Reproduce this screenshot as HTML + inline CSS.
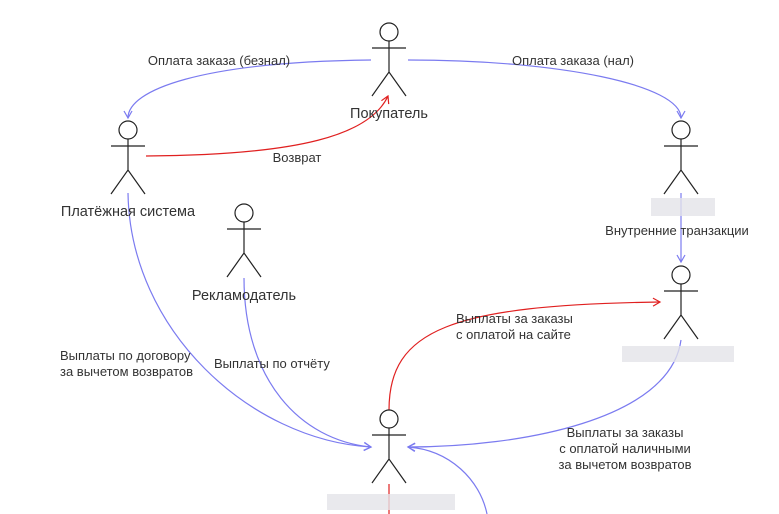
<!DOCTYPE html>
<html><head><meta charset="utf-8"><style>
html,body{margin:0;padding:0;background:#fff;}
svg{display:block;}
text{font-family:"Liberation Sans",sans-serif;font-size:13px;fill:#333;}
.a{stroke:#222;stroke-width:1.2;fill:none;}
.b{stroke:#7b7bf0;stroke-width:1.2;fill:none;}
.r{stroke:#e02020;stroke-width:1.2;fill:none;}
</style></head><body>
<svg width="779" height="514" viewBox="0 0 779 514" xmlns="http://www.w3.org/2000/svg">
<defs>
<marker id="mb" markerWidth="10" markerHeight="10" refX="8" refY="5" orient="auto" markerUnits="userSpaceOnUse"><path d="M1,1 L8,5 L1,9" fill="none" stroke="#7b7bf0" stroke-width="1.2"/></marker>
<marker id="mr" markerWidth="10" markerHeight="10" refX="8" refY="5" orient="auto" markerUnits="userSpaceOnUse"><path d="M1,1 L8,5 L1,9" fill="none" stroke="#e02020" stroke-width="1.2"/></marker>
<g id="act" class="a"><circle cx="0" cy="0" r="9"/><path d="M0,9 V40 M-17,16 H17 M-17,64 L0,40 L17,64"/></g>
</defs>
<path class="b" d="M371,60 C200,62 128,90 128,118" marker-end="url(#mb)"/>
<path class="b" d="M408,60 C560,60 681,85 681,118" marker-end="url(#mb)"/>
<path class="r" d="M146,156 C300,155 370,135 388,96" marker-end="url(#mr)"/>
<path class="b" d="M681,193 V262" marker-end="url(#mb)"/>
<path class="b" d="M128,193 C130,330 250,440 371,447" marker-end="url(#mb)"/>
<path class="b" d="M244,278 C244,380 300,440 371,447" marker-end="url(#mb)"/>
<path class="r" d="M389,410 C389,330 450,305 660,302" marker-end="url(#mr)"/>
<path class="b" d="M681,340 C670,420 520,447 408,447" marker-end="url(#mb)"/>
<path class="b" d="M487,514 C480,480 450,450 408,447" marker-end="url(#mb)"/>
<path class="r" d="M389,484 V514"/>
<use href="#act" x="389" y="32"/>
<use href="#act" x="128" y="130"/>
<use href="#act" x="681" y="130"/>
<use href="#act" x="244" y="213"/>
<use href="#act" x="681" y="275"/>
<use href="#act" x="389" y="419"/>
<rect x="651" y="198" width="64" height="18" fill="#e4e4e8" opacity="0.8"/>
<rect x="622" y="346" width="112" height="16" fill="#e4e4e8" opacity="0.8"/>
<rect x="327" y="494" width="128" height="16" fill="#e4e4e8" opacity="0.8"/>
<text x="389" y="118" text-anchor="middle" style="font-size:14.5px">Покупатель</text>
<text x="128" y="216" text-anchor="middle" style="font-size:14.5px">Платёжная система</text>
<text x="244" y="300" text-anchor="middle" style="font-size:14.5px">Рекламодатель</text>
<text x="219" y="65" text-anchor="middle">Оплата заказа (безнал)</text>
<text x="573" y="65" text-anchor="middle">Оплата заказа (нал)</text>
<text x="297" y="162" text-anchor="middle">Возврат</text>
<text x="677" y="235" text-anchor="middle">Внутренние транзакции</text>
<text x="60" y="360">Выплаты по договору</text>
<text x="60" y="376">за вычетом возвратов</text>
<text x="214" y="368">Выплаты по отчёту</text>
<text x="456" y="323">Выплаты за заказы</text>
<text x="456" y="339">с оплатой на сайте</text>
<text x="625" y="437" text-anchor="middle">Выплаты за заказы</text>
<text x="625" y="453" text-anchor="middle">с оплатой наличными</text>
<text x="625" y="469" text-anchor="middle">за вычетом возвратов</text>
</svg>
</body></html>
